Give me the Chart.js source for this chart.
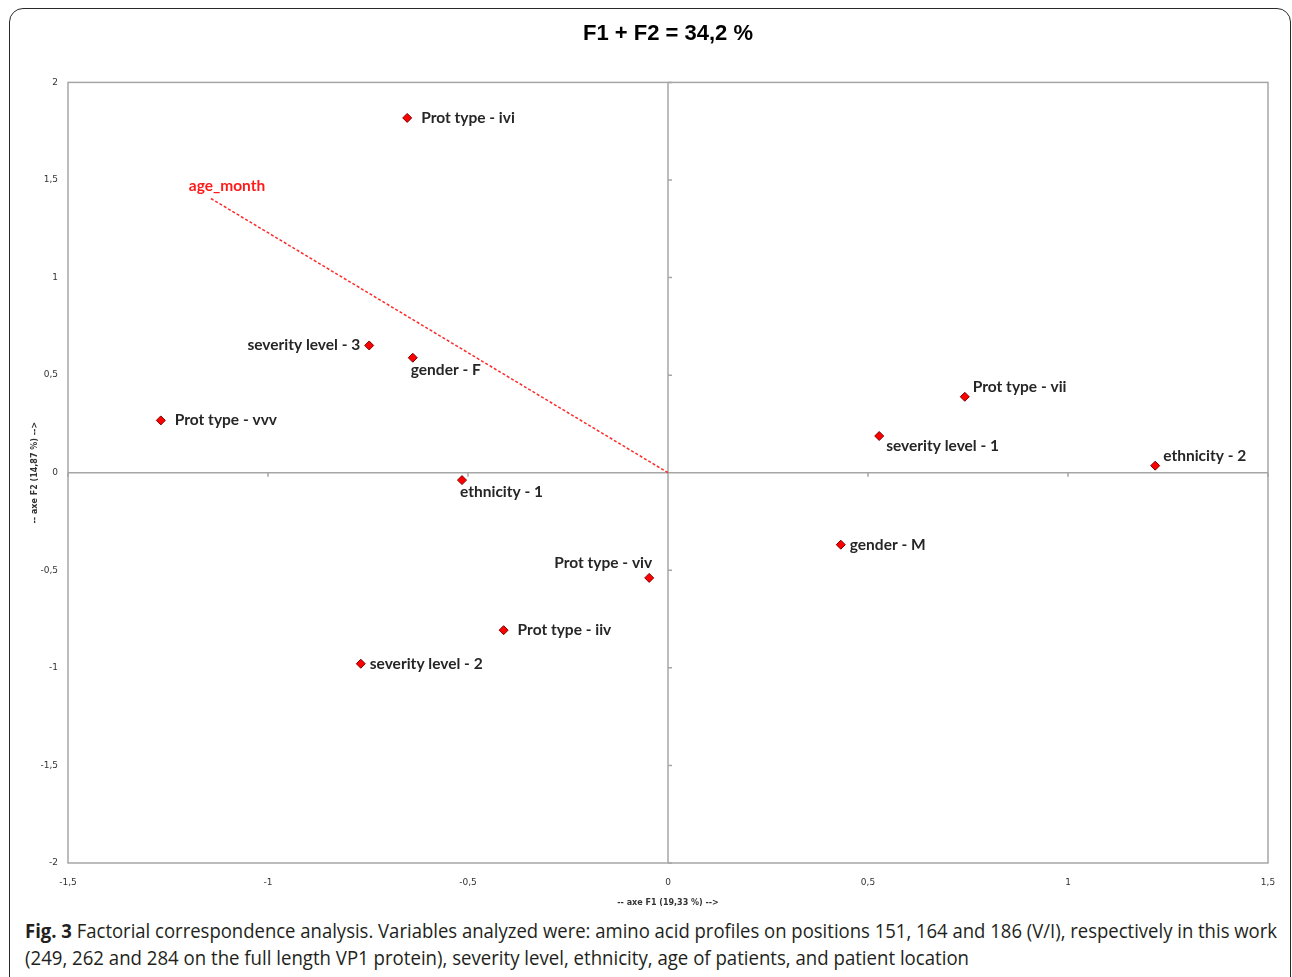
<!DOCTYPE html>
<html>
<head>
<meta charset="utf-8">
<script src="https://cdn.jsdelivr.net/npm/chart.js@4.4.1/dist/chart.umd.min.js"></script>
<style>
    body { margin: 0; width: 1292px; height: 977px; background: #fff; overflow: hidden; position: relative; }
    #frame { position: absolute; left: 9px; top: 8px; width: 1280px; height: 1000px; border: 1.5px solid #2a2a2a; border-radius: 14px; }
    #chart { position: absolute; left: 12px; top: 12px; }
    .cap { position: absolute; left: 25px; font-family: "Open Sans", sans-serif; font-size: 20px; color: #231f20; white-space: nowrap; transform-origin: 0 0; }
    .cap b { font-weight: 700; }
</style>
</head>
<body>
<div id="frame"></div>
<canvas id="chart" width="1276" height="900"></canvas>
<div class="cap" id="cap1" style="top:917px"><b>Fig. 3</b> Factorial correspondence analysis. Variables analyzed were: amino acid profiles on positions 151, 164 and 186 (V/I), respectively in this work</div>
<div class="cap" id="cap2" style="top:944px">(249, 262 and 284 on the full length VP1 protein), severity level, ethnicity, age of patients, and patient location</div>
<script>
const pointLabels = ["Prot type - ivi", "severity level - 3", "gender - F", "Prot type - vvv", "ethnicity - 1",
    "Prot type - viv", "Prot type - iiv", "severity level - 2", "Prot type - vii", "severity level - 1",
    "ethnicity - 2", "gender - M"];
const f1Values = [-0.652, -0.747, -0.638, -1.268, -0.515, -0.047, -0.411, -0.768, 0.742, 0.528, 1.218, 0.432];
const f2Values = [1.818, 0.652, 0.589, 0.268, -0.038, -0.539, -0.807, -0.979, 0.389, 0.188, 0.036, -0.369];
// label side for each point
const labelPlace = ["rr", "l", "b", "rr", "b", "al", "rr", "r", "ar", "br", "ar", "r"];

const varLabel = "age_month";
const varF1 = -1.145;
const varF2 = 1.408;

const xTicks = [-1.5, -1, -0.5, 0, 0.5, 1, 1.5];
const yTicks = [-2, -1.5, -1, -0.5, 0, 0.5, 1, 1.5, 2];

function fmt(v) {
    return String(v).replace(".", ",");
}

const pointData = [];
f1Values.forEach((x, i) => {
    pointData.push({ x: x, y: f2Values[i] });
});

// box round the plot and the two axes through zero
const frameLines = {
    id: "frameLines",
    beforeDatasetsDraw(chart) {
        const ctx = chart.ctx;
        const a = chart.chartArea;
        const xs = chart.scales.x;
        const ys = chart.scales.y;
        const x0 = xs.getPixelForValue(0);
        const y0 = ys.getPixelForValue(0);
        ctx.save();
        ctx.strokeStyle = "#a6a6a6";
        ctx.lineWidth = 1.5;
        ctx.strokeRect(a.left, a.top, a.right - a.left, a.bottom - a.top);
        ctx.beginPath();
        ctx.moveTo(a.left, y0);
        ctx.lineTo(a.right, y0);
        ctx.moveTo(x0, a.top);
        ctx.lineTo(x0, a.bottom);
        xs.ticks.forEach(t => {
            const px = xs.getPixelForValue(t.value);
            ctx.moveTo(px, y0);
            ctx.lineTo(px, y0 + 4);
        });
        ys.ticks.forEach(t => {
            const py = ys.getPixelForValue(t.value);
            ctx.moveTo(x0, py);
            ctx.lineTo(x0 + 4, py);
        });
        ctx.stroke();
        ctx.restore();
    }
};

const offsets = {
    r: [9, 0, "left"],
    rr: [14, 0, "left"],
    l: [-9, 0, "right"],
    b: [-2, 12, "left"],
    al: [3, -15, "right"],
    ar: [8, -10, "left"],
    br: [7, 10, "left"]
};

const pointNames = {
    id: "pointNames",
    afterDatasetsDraw(chart) {
        const ctx = chart.ctx;
        ctx.save();
        ctx.font = "bold 15.5px Lato, sans-serif";
        ctx.textBaseline = "middle";
        ctx.fillStyle = "#262626";
        chart.getDatasetMeta(0).data.forEach((p, i) => {
            const o = offsets[labelPlace[i]];
            ctx.textAlign = o[2];
            ctx.fillText(pointLabels[i], p.x + o[0], p.y + o[1]);
        });
        const end = chart.getDatasetMeta(1).data[1];
        ctx.fillStyle = "#ff1a1a";
        ctx.textAlign = "center";
        ctx.fillText(varLabel, end.x + 17, end.y - 12);
        ctx.restore();
    }
};

const ctx = document.getElementById("chart");
new Chart(ctx, {
    type: "scatter",
    data: {
        datasets: [
            {
                label: "modalities",
                data: pointData,
                pointStyle: "rectRot",
                pointRadius: 4.5,
                backgroundColor: "#ff0000",
                borderColor: "#7a0000",
                borderWidth: 1,
                order: 0
            }, {
                label: varLabel,
                data: [{ x: 0, y: 0 }, { x: varF1, y: varF2 }],
                showLine: true,
                pointRadius: 0,
                borderColor: "#ff2a2a",
                borderWidth: 1.5,
                borderDash: [3, 2],
                order: 1
            }
        ]
    },
    options: {
        responsive: false,
        animation: false,
        layout: { padding: { left: 0, right: 20, top: 0, bottom: 0 } },
        plugins: {
            legend: { display: false },
            tooltip: { enabled: false },
            title: {
                display: true,
                text: "F1 + F2 = 34,2 %",
                fullSize: false,
                color: "#000",
                font: { family: "Arial, 'Liberation Sans', sans-serif", size: 22, weight: "bold" },
                padding: { top: 9, bottom: 35 }
            }
        },
        scales: {
            x: {
                type: "linear",
                min: -1.5,
                max: 1.5,
                grid: { display: false },
                border: { display: false },
                afterBuildTicks: s => { s.ticks = xTicks.map(v => ({ value: v })); },
                afterFit: s => { s.height = 49; },
                ticks: {
                    autoSkip: false,
                    maxRotation: 0,
                    padding: 6,
                    color: "#333",
                    font: { family: "'DejaVu Sans', sans-serif", size: 9 },
                    callback: v => fmt(v)
                },
                title: {
                    display: true,
                    text: "-- axe F1 (19,33 %) -->",
                    color: "#333",
                    font: { family: "'DejaVu Sans', sans-serif", size: 8, weight: "bold" },
                    padding: { top: 0, bottom: 4 }
                }
            },
            y: {
                type: "linear",
                min: -2,
                max: 2,
                grid: { display: false },
                border: { display: false },
                afterBuildTicks: s => { s.ticks = yTicks.map(v => ({ value: v })); },
                afterFit: s => { s.width = 56; },
                ticks: {
                    autoSkip: false,
                    padding: 2,
                    color: "#333",
                    font: { family: "'DejaVu Sans', sans-serif", size: 9 },
                    callback: v => fmt(v)
                },
                title: {
                    display: true,
                    text: "-- axe F2 (14,87 %) -->",
                    color: "#333",
                    font: { family: "'DejaVu Sans', sans-serif", size: 8, weight: "bold" },
                    padding: { top: 18, bottom: 0 }
                }
            }
        }
    },
    plugins: [frameLines, pointNames]
});

// stretch the two caption lines to the frame width
["cap1", "cap2"].forEach(id => {
    const el = document.getElementById(id);
    const w = el.getBoundingClientRect().width;
    const target = id == "cap1" ? 1252 : 944;
    el.style.transform = "scaleX(" + (target / w) + ")";
});
</script>
</body>
</html>
